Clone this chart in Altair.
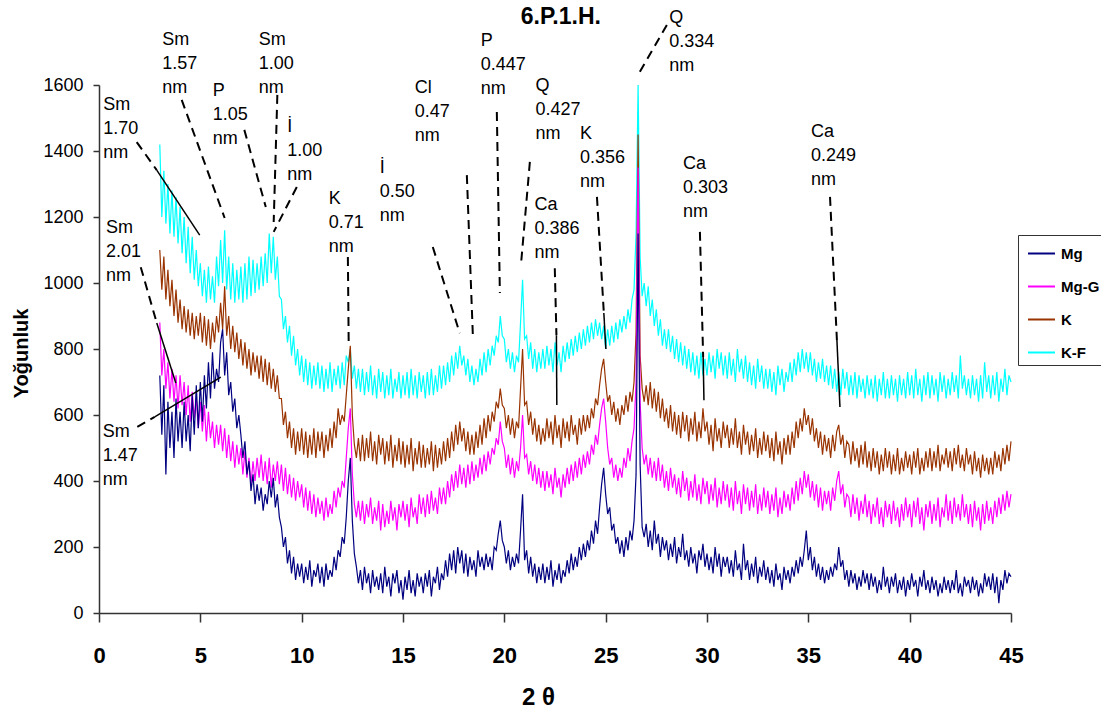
import altair as alt
import pandas as pd

F = "Liberation Sans"

# 2-theta sampling grid, 3.0 .. 45.0 deg in 0.1 steps
angles = [round(3 + 0.1 * i, 1) for i in range(421)]

mg = [
 720,540,690,420,640,500,610,470,650,520,
 610,500,640,520,600,490,660,540,690,560,
 700,580,720,620,760,650,790,680,740,700,
 820,860,720,790,660,700,610,650,560,600,
 540,470,520,420,460,370,420,330,390,340,
 380,310,360,330,400,350,410,320,360,290,
 260,200,230,150,190,120,170,100,150,110,
 150,90,140,100,160,80,130,110,150,90,
 140,80,150,100,130,110,170,130,190,170,
 230,210,290,400,470,280,180,140,90,130,
 70,140,90,120,60,130,80,110,70,120,
 60,140,80,110,50,120,90,130,60,100,
 40,110,70,130,60,100,50,120,80,110,
 60,120,80,130,50,110,90,140,70,120,
 100,160,110,180,130,190,120,200,150,190,
 120,180,110,170,130,160,110,190,140,170,
 130,180,140,170,130,200,190,240,280,220,
 200,150,190,130,170,140,180,150,250,360,
 160,190,120,170,110,150,90,140,100,150,
 90,140,100,160,80,130,100,150,90,130,
 110,160,120,180,130,170,140,200,160,210,
 170,220,190,250,210,280,240,320,390,440,
 360,300,320,250,270,210,230,180,220,170,
 230,190,250,220,280,420,1150,450,260,230,
 270,200,250,190,280,210,240,170,230,190,
 220,160,210,170,230,150,200,170,240,160,
 190,140,200,150,180,120,190,160,210,140,
 180,130,170,120,200,140,180,110,170,140,
 170,120,160,110,190,130,150,100,210,130,
 160,100,150,110,170,90,140,110,160,100,
 140,90,130,80,150,100,120,70,140,100,
 130,90,140,110,160,120,170,140,190,250,
 160,200,130,170,110,150,100,140,90,130,
 100,140,110,150,130,200,140,160,100,130,
 80,130,90,120,70,110,80,130,90,120,
 70,120,80,110,60,100,70,140,80,110,
 60,110,80,120,60,100,70,110,50,100,
 70,120,80,100,50,110,80,130,70,100,
 60,110,70,100,50,90,60,110,70,100,
 60,100,70,130,60,90,50,110,80,100,
 60,110,70,100,50,90,60,120,80,110,
 70,120,60,110,30,100,70,130,90,120,
 110,
]

mg_g = [
 880,720,800,680,760,650,740,640,720,620,
 720,630,700,600,690,580,670,590,650,560,
 640,550,630,520,610,530,580,500,570,510,
 570,490,560,470,540,460,520,440,510,450,
 500,420,490,410,470,390,460,400,470,410,
 480,400,460,390,470,380,450,400,460,390,
 450,370,440,360,420,350,410,340,400,350,
 390,320,380,310,370,300,360,290,350,300,
 340,280,350,290,330,300,370,320,380,350,
 400,380,470,560,620,420,330,290,340,280,
 340,270,330,290,350,270,320,280,340,250,
 330,260,310,270,340,280,320,250,330,290,
 340,280,330,260,350,290,320,270,360,300,
 350,290,360,300,370,310,350,300,380,330,
 380,330,400,350,420,370,430,380,450,390,
 440,380,450,390,460,400,450,410,470,420,
 480,430,490,450,500,480,530,510,580,520,
 500,440,480,420,470,410,460,430,500,600,
 470,480,420,460,400,450,390,440,380,430,
 370,430,380,420,360,440,380,410,350,420,
 380,440,390,450,400,460,410,470,420,480,
 440,490,450,510,480,540,510,570,620,650,
 580,500,450,470,410,450,400,440,410,470,
 440,500,460,520,560,700,1350,640,500,450,
 480,420,470,410,460,400,470,400,450,380,
 430,370,440,380,420,360,410,350,430,370,
 410,340,400,350,420,340,390,330,410,360,
 400,330,390,340,410,320,380,330,400,340,
 390,320,380,310,400,330,370,300,390,330,
 380,310,370,320,390,300,360,310,380,320,
 370,300,360,310,380,290,350,300,370,320,
 360,310,380,330,400,340,410,360,430,380,
 420,350,400,340,390,320,380,310,370,330,
 370,310,380,340,400,430,360,390,320,360,
 350,290,360,300,350,280,340,300,360,290,
 340,270,330,290,350,270,320,260,340,290,
 330,270,340,280,320,260,330,280,350,290,
 330,260,340,290,350,270,320,250,330,290,
 340,270,330,280,350,260,320,290,360,280,
 340,270,350,290,330,280,360,290,330,270,
 330,260,340,280,320,250,330,270,340,280,
 320,270,340,290,350,300,360,310,370,320,
 360,
]

k = [
 1100,980,1080,950,1040,930,1010,900,980,880,
 950,860,930,850,920,840,910,830,900,840,
 910,820,900,810,890,800,880,820,900,850,
 940,860,990,840,900,800,870,790,850,770,
 830,750,820,740,800,720,790,730,780,710,
 780,700,770,690,760,680,740,670,720,650,
 650,570,610,530,580,500,560,480,550,490,
 560,480,550,470,540,480,560,470,550,490,
 550,470,540,490,560,500,580,530,620,570,
 600,580,660,740,810,600,510,470,530,460,
 540,460,530,470,550,460,520,450,540,480,
 530,450,520,460,540,440,510,460,530,450,
 520,440,510,450,530,430,500,450,520,440,
 510,440,500,450,520,430,510,440,500,450,
 520,460,530,470,550,490,570,510,580,520,
 560,490,550,480,540,480,550,500,570,510,
 590,530,600,550,610,580,640,620,680,630,
 620,560,600,540,590,530,580,560,680,800,
 630,640,570,610,540,590,520,570,510,560,
 520,590,530,580,510,600,530,570,500,590,
 530,580,520,600,540,570,510,590,540,600,
 550,600,560,620,590,650,630,690,740,770,
 700,640,660,600,640,580,620,570,630,600,
 660,610,670,640,700,850,1450,780,680,640,
 690,630,700,620,680,610,670,590,650,580,
 620,560,630,550,610,540,600,530,610,550,
 600,520,590,540,610,520,580,530,620,550,
 580,510,570,490,590,520,560,500,580,530,
 570,500,560,510,590,500,550,480,570,510,
 550,480,540,490,560,470,530,480,550,490,
 540,470,530,460,550,480,520,450,530,480,
 540,480,550,500,580,530,590,550,620,570,
 600,540,590,520,560,500,550,480,540,490,
 530,470,540,490,550,570,510,540,470,520,
 510,450,520,460,500,440,510,450,520,440,
 490,430,500,440,490,420,480,430,500,440,
 490,420,480,430,500,420,470,430,490,440,
 480,420,490,440,500,420,470,430,490,440,
 500,430,490,440,510,430,480,450,500,440,
 490,430,500,450,510,440,480,430,500,450,
 480,420,490,430,470,410,480,430,470,420,
 470,420,490,440,480,430,500,450,510,460,
 520,
]

k_f = [
 1420,1200,1340,1180,1300,1150,1280,1140,1260,1120,
 1230,1090,1200,1060,1170,1030,1140,1010,1100,990,
 1060,960,1040,940,1050,950,1020,940,1080,990,
 1130,1000,1160,980,1080,950,1060,940,1040,950,
 1050,940,1060,950,1080,960,1070,970,1060,980,
 1080,990,1090,1000,1150,1030,1140,1010,1080,960,
 950,860,900,820,870,780,840,750,800,720,
 780,700,770,690,760,680,750,690,760,680,
 750,670,740,680,760,670,740,690,750,680,
 760,690,780,760,800,710,750,680,740,670,
 740,660,730,670,750,660,720,650,740,670,
 730,650,720,660,740,650,710,670,730,650,
 720,660,730,650,740,660,720,650,730,670,
 720,650,730,660,740,660,720,670,750,680,
 750,690,760,700,780,720,790,740,810,750,
 780,720,770,700,750,690,740,700,770,720,
 790,730,800,750,810,780,840,820,900,840,
 830,760,800,740,790,730,780,760,880,1010,
 830,840,770,820,740,800,730,790,740,800,
 740,810,750,800,730,820,750,790,730,810,
 760,820,770,830,780,840,790,850,800,860,
 810,870,820,880,830,890,840,880,830,870,
 800,860,810,870,820,880,830,890,850,900,
 860,920,880,950,980,1150,1600,1080,960,1000,
 930,990,900,950,870,920,840,890,810,860,
 800,860,790,840,770,830,760,820,750,810,
 740,800,730,790,720,780,710,790,720,770,
 720,790,730,780,710,800,740,790,720,780,
 710,790,720,770,700,800,730,770,710,780,
 700,760,690,750,680,770,700,750,680,740,
 680,740,670,730,660,750,690,740,670,730,
 700,760,700,770,720,790,730,800,740,790,
 730,790,720,770,700,760,710,770,700,750,
 690,750,680,740,670,730,660,740,680,730,
 660,720,660,730,650,720,670,710,650,720,
 660,710,650,720,640,710,660,730,650,710,
 650,720,660,710,640,720,660,710,650,730,
 660,720,650,740,660,710,640,720,660,730,
 650,720,660,710,640,730,670,720,650,710,
 660,730,670,720,650,780,680,720,660,710,
 650,720,660,710,640,720,650,760,670,720,
 650,720,660,730,640,710,670,740,660,720,
 700,
]

series_names = ["Mg", "Mg-G", "K", "K-F"]
series_colors = ["#000080", "#FF00FF", "#993300", "#00FFFF"]
series_values = [mg, mg_g, k, k_f]

rows = []
for name, vals in zip(series_names, series_values):
    for a, v in zip(angles, vals):
        rows.append({"angle": a, "intensity": v, "series": name})
df = pd.DataFrame(rows)

# peak annotations: three text lines, left x (2-theta), first-line y (intensity)
ann_l1 = ["Sm", "Sm", "P", "Sm", "İ", "Sm", "K", "İ", "Cl", "P", "Q", "Ca", "Q", "K", "Ca", "Ca", "Sm"]
ann_l2 = ["1.57", "1.00", "1.05", "1.70", "1.00", "2.01", "0.71", "0.50", "0.47", "0.447", "0.427",
          "0.386", "0.334", "0.356", "0.303", "0.249", "1.47"]
ann_l3 = ["nm"] * 17
ann_x = [3.12, 7.88, 5.61, 0.21, 9.29, 0.35, 11.34, 13.85, 15.58, 18.84, 21.54, 21.49, 28.14, 23.73,
         28.81, 35.13, 0.18]
ann_y = [1736, 1736, 1582, 1539, 1473, 1167, 1255, 1348, 1591, 1733, 1597, 1236, 1803, 1452, 1361,
         1458, 548]
ann = pd.DataFrame({"l1": ann_l1, "l2": ann_l2, "l3": ann_l3, "x": ann_x, "y": ann_y})

# chart heading, placed in data space above the plot
head = pd.DataFrame({"t": ["6.P.1.H."], "x": [22.79], "y": [1806]})

# leader lines in data coordinates
lead_x1 = [1.86, 4.08, 7.17, 8.80, 9.76, 2.06, 1.89, 12.28, 16.47, 18.15, 19.63, 21.26, 22.49, 24.57,
           28.02, 29.65, 36.07,
           2.85, 2.85, 2.75, 22.57, 24.91, 29.81, 36.41]
lead_y1 = [1427, 1555, 1464, 1570, 1291, 1048, 564, 1079, 1109, 1327, 1518, 1367, 1045, 1261,
           1782, 1155, 1261,
           1342, 879, 594, 842, 909, 776, 827]
lead_x2 = [2.85, 6.20, 8.23, 8.62, 8.62, 2.85, 2.75, 12.32, 17.80, 18.45, 19.78, 20.82, 22.57, 24.91,
           26.59, 29.81, 36.41,
           4.97, 3.79, 6.01, 22.59, 25.01, 29.85, 36.56]
lead_y2 = [1342, 1197, 1230, 1185, 1155, 879, 594, 818, 848, 836, 970, 1055, 842, 909,
           1630, 776, 827,
           1145, 697, 715, 630, 800, 645, 624]
lead_style = ["dash"] * 17 + ["solid"] * 7
leads = pd.DataFrame({"x1": lead_x1, "y1": lead_y1, "x2": lead_x2, "y2": lead_y2, "style": lead_style})

xs = alt.Scale(domain=[0, 45], nice=False, zero=False)
ys = alt.Scale(domain=[0, 1600], nice=False)

xaxis = alt.Axis(values=list(range(0, 46, 5)), title="2 θ", labelFontSize=22, labelFontWeight="bold",
                 labelFont=F, labelColor="black", tickSize=9, tickColor="#333", tickWidth=1.5,
                 domainColor="#333", domainWidth=1.5, labelPadding=23, grid=False,
                 titleFontSize=24, titleFontWeight="bold", titleFont=F, titleColor="black",
                 titleX=439, titleY=84, titleBaseline="middle", titleAlign="center",
                 labelFlush=False, labelOverlap=False)
yaxis = alt.Axis(values=list(range(0, 1601, 200)), format="d", title="Yoğunluk", labelFontSize=18,
                 labelFont=F, labelColor="black", tickSize=6, tickColor="#333", tickWidth=1.5,
                 domainColor="#333", domainWidth=1.5, labelPadding=10, grid=False,
                 titleFontSize=20, titleFontWeight="bold", titleFont=F, titleColor="black",
                 titleX=-78, titleY=268, titleAngle=270, titleBaseline="middle", titleAlign="center",
                 labelFlush=False, labelOverlap=False)

legend = alt.Legend(orient="none", legendX=919, legendY=150, title=None, strokeColor="#333",
                    fillColor="white", padding=4, symbolType="stroke", symbolSize=729,
                    symbolStrokeWidth=2, symbolOffset=5, labelOffset=5, labelFontSize=15,
                    labelFontWeight="bold", labelFont=F, labelColor="black", rowPadding=10)
color = alt.Color("series:N", scale=alt.Scale(domain=series_names, range=series_colors), legend=legend)

layers = []
for name in ["K-F", "K", "Mg-G", "Mg"]:
    layers.append(
        alt.Chart(df).transform_filter(alt.datum.series == name)
        .mark_line(strokeWidth=1.2, interpolate="linear")
        .encode(x=alt.X("angle:Q", scale=xs, axis=xaxis),
                y=alt.Y("intensity:Q", scale=ys, axis=yaxis),
                color=color)
    )

dash_rules = alt.Chart(leads).transform_filter(alt.datum.style == "dash").mark_rule(
    color="black", strokeWidth=2, strokeDash=[9, 6]).encode(
    x=alt.X("x1:Q", scale=xs, axis=xaxis), y=alt.Y("y1:Q", scale=ys, axis=yaxis),
    x2="x2:Q", y2="y2:Q")
solid_rules = alt.Chart(leads).transform_filter(alt.datum.style == "solid").mark_rule(
    color="black", strokeWidth=1.5).encode(
    x=alt.X("x1:Q", scale=xs, axis=xaxis), y=alt.Y("y1:Q", scale=ys, axis=yaxis),
    x2="x2:Q", y2="y2:Q")

texts = []
for i, col in enumerate(["l1", "l2", "l3"]):
    texts.append(
        alt.Chart(ann).mark_text(align="left", baseline="middle", fontSize=18, font=F, color="black",
                                 dy=24 * i)
        .encode(x=alt.X("x:Q", scale=xs, axis=xaxis), y=alt.Y("y:Q", scale=ys, axis=yaxis),
                text=f"{col}:N")
    )

heading = alt.Chart(head).mark_text(align="center", baseline="middle", fontSize=23, fontWeight="bold",
                                    font=F, color="black").encode(
    x=alt.X("x:Q", scale=xs, axis=xaxis), y=alt.Y("y:Q", scale=ys, axis=yaxis), text="t:N")

chart = alt.layer(*layers, dash_rules, solid_rules, *texts, heading).properties(
    width=912, height=528,
    autosize=alt.AutoSizeParams(type="none"),
    padding={"left": 99, "top": 85, "right": 90, "bottom": 98},
    background="white",
).configure_view(stroke=None)

chart.save("out.html", embed_options={"renderer": "svg", "actions": False})
